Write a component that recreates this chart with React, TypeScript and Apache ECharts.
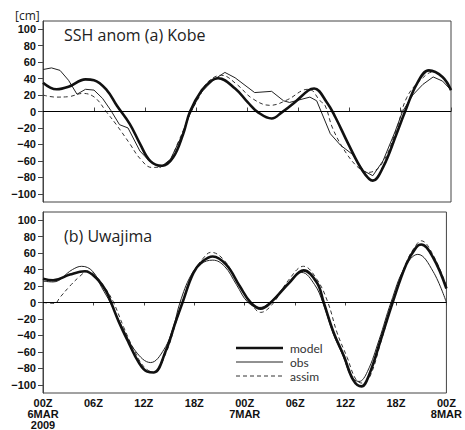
import React, { useEffect, useRef } from "react";
import * as echarts from "echarts";

// ---- Data (hours since 00Z 6 MAR 2009, SSH anomaly in cm) ----
const xTickLabels = ["00Z\n6MAR\n2009", "06Z", "12Z", "18Z", "00Z\n7MAR", "06Z", "12Z", "18Z", "00Z\n8MAR"];
const yTickValues = [-100, -80, -60, -40, -20, 0, 20, 40, 60, 80, 100];
const panelTitles = ["SSH anom (a) Kobe", "(b) Uwajima"];
const seriesNames = ["model", "obs", "assim"];

// (a) Kobe
const kobeModelH = [0, 1.6, 3, 5, 6, 7.5, 8.7, 10.2, 11.4, 12.6, 14, 15.3, 16.5, 17.3, 18.7, 19.9, 20.6, 22.6, 24.1, 25.3, 26.9, 28.1, 29.6, 31.2, 31.9, 33.4, 34.4, 35.9, 37.6, 38.8, 40, 41.6, 42.6, 44, 45.4, 47, 48];
const kobeModelV = [35, 27, 30, 39, 38, 26, 7, -15, -39, -60, -66, -56, -27, 0, 26, 38, 40.5, 28, 11, -1, -8.5, -1, 11, 25.5, 28, 11, -7, -39, -72, -84, -68, -27, 0, 34, 50, 42, 26];

const kobeObsH = [0, 1, 2, 3, 4, 5, 6, 7, 8, 9, 10, 11.4, 12.5, 13.8, 15, 16.3, 17.2, 18.5, 20, 21.4, 22.6, 24.9, 26.9, 28.3, 29, 31.4, 32.2, 33.8, 35, 36.4, 37.7, 38.8, 40, 41.4, 42.3, 43.5, 44.7, 45.9, 47, 48];
const kobeObsV = [51, 53, 50, 38, 21, 27, 26, 16, 1, -16, -20, -48, -60, -68, -58, -30, -5, 22, 38, 47.5, 41, 23, 24.5, 13, 11, 17.5, 13, -27, -41, -52, -72, -78, -60, -25, 0, 20, 33, 42, 37, 26];

const kobeAssimH = [0, 1.5, 3, 4.7, 6.1, 7.5, 8.7, 10.2, 11.4, 12.8, 14.5, 16, 17.3, 18.5, 19.4, 21, 22.8, 24.6, 26.7, 28.8, 30.5, 31.3, 32.6, 33.2, 34.1, 35.7, 37.3, 38.3, 39.9, 41.6, 42.8, 44.4, 45.9, 47, 48];
const kobeAssimV = [20, 17.5, 18, 22, 17, -1, -17, -39, -57, -68, -64, -35, -3, 20, 36, 44, 33, 16, 7.5, 14.5, 25.5, 27, 13, 7, -21, -51, -70, -74, -63, -21, 17, 38, 48, 42, 25];

// (b) Uwajima
const uwaModelH = [0, 1.2, 3.2, 5, 6.3, 7.5, 8.1, 9, 10.2, 11.4, 12.4, 13.2, 14.6, 15.8, 16.6, 17.9, 19, 20.2, 21.8, 23.4, 24.7, 25.9, 27.3, 29.3, 31, 32.6, 33.4, 34.6, 35.8, 36.9, 37.9, 38.8, 40.2, 41.6, 43.2, 44.4, 45, 46.4, 48];
const uwaModelV = [29, 27, 34, 38, 30, 14, 0, -23, -49, -73, -84, -85, -59, -23, 0, 36, 50, 56, 46, 20, 0, -7.5, 2, 24, 39, 24, 0, -37, -65, -94, -102, -88, -45, 0, 46, 67, 70.5, 55, 17];

const uwaObsH = [0, 1.2, 3.5, 4.6, 5.9, 7, 8, 9.4, 11, 12.8, 14.4, 15.5, 16.3, 17.6, 18.8, 20.2, 21.6, 23, 24.4, 25.8, 27.2, 29, 30.8, 32.3, 33.3, 34.5, 35.7, 36.7, 37.6, 38.6, 40, 41.4, 43, 44.6, 46.4, 48];
const uwaObsV = [26, 25, 40, 44, 38, 18, 0, -29, -59, -73, -57, -30, 0, 33, 47, 51.5, 44, 22, 0, -6, 2, 22, 36.5, 22, 0, -37, -65, -90, -96, -84, -45, 0, 42, 58.5, 38, 0];

const uwaAssimH = [0, 1.4, 2, 3.2, 4.4, 5.3, 6.3, 7.5, 8.4, 9.6, 10.8, 12, 13.2, 14.6, 15.8, 16.6, 17.8, 19, 20, 21.5, 23.2, 24.7, 25.9, 27.3, 29.2, 31, 32.6, 33.9, 35, 36.2, 37.2, 38, 38.9, 40.2, 41.6, 43.2, 44.4, 45, 46.4, 48];
const uwaAssimV = [0, -1, 6, 20, 32, 38, 32, 16, 0, -30, -57, -78, -85, -62, -25, 0, 35, 53, 61, 52, 24, 0, -12, -2, 27, 44, 28, 0, -37, -67, -93, -98, -90, -48, 0, 48, 70, 75, 58, 20];

const zip = (h: number[], v: number[]) => h.map((x, i) => [x, v[i]]);

const AXIS_COLOR = "#444";
const LABEL_FONT = "'Liberation Sans', Arial, sans-serif";
const TEXT_FONT = "'Open Sans', 'Noto Sans', sans-serif";
const LEGEND_FONT = "Lato, 'Liberation Sans', sans-serif";

export default function App() {
  const ref = useRef<HTMLDivElement>(null);

  useEffect(() => {
    document.body.style.margin = "0";
    if (!ref.current) return;
    const chart = echarts.init(ref.current, null, { renderer: "svg" });

    const grids = [
      { left: 43, top: 21, width: 408, height: 181, show: true, borderColor: AXIS_COLOR, borderWidth: 1, backgroundColor: "transparent" },
      { left: 43, top: 212, width: 408, height: 182, show: true, borderColor: AXIS_COLOR, borderWidth: 1, backgroundColor: "transparent" },
    ];

    const xAxes = [0, 1].map((g) => ({
      type: "value",
      gridIndex: g,
      min: 0,
      max: 48,
      interval: 6,
      axisLine: { show: true, lineStyle: { color: AXIS_COLOR, width: 1 } },
      axisTick: { show: true, inside: g === 0, length: g === 0 ? 4 : 3, lineStyle: { color: AXIS_COLOR } },
      splitLine: { show: false },
      axisLabel: {
        show: g === 1,
        margin: 4,
        fontFamily: LABEL_FONT,
        fontWeight: "bold",
        fontSize: 11,
        lineHeight: 11,
        color: "#111",
        verticalAlign: "top",
        formatter: (v: number) => xTickLabels[Math.round(v / 6)] ?? "",
      },
    }));

    const yAxes = [0, 1].map((g) => ({
      type: "value",
      gridIndex: g,
      min: -110,
      max: 110,
      axisLine: { show: true, lineStyle: { color: AXIS_COLOR, width: 1 } },
      axisTick: { show: true, inside: false, length: 5, customValues: yTickValues, lineStyle: { color: AXIS_COLOR } },
      splitLine: { show: false },
      axisLabel: {
        show: true,
        margin: 7,
        customValues: yTickValues,
        fontFamily: LABEL_FONT,
        fontWeight: "bold",
        fontSize: 11,
        color: "#111",
        formatter: (v: number) => String(v).replace("-", "\u2212"),
      },
    }));

    const zeroLine = {
      silent: true,
      symbol: "none",
      label: { show: false },
      lineStyle: { color: "#000", width: 1, type: "solid" },
      data: [{ yAxis: 0 }],
    };

    const panels = [
      { model: zip(kobeModelH, kobeModelV), obs: zip(kobeObsH, kobeObsV), assim: zip(kobeAssimH, kobeAssimV), obsSmooth: false },
      { model: zip(uwaModelH, uwaModelV), obs: zip(uwaObsH, uwaObsV), assim: zip(uwaAssimH, uwaAssimV), obsSmooth: 0.4 },
    ];

    const series: any[] = [];
    panels.forEach((p, g) => {
      series.push({
        name: seriesNames[2],
        type: "line",
        xAxisIndex: g,
        yAxisIndex: g,
        data: p.assim,
        smooth: 0.4,
        showSymbol: false,
        lineStyle: { color: "#333", width: 1, type: [4, 3] },
        markLine: zeroLine,
        z: 2,
      });
      series.push({
        name: seriesNames[1],
        type: "line",
        xAxisIndex: g,
        yAxisIndex: g,
        data: p.obs,
        smooth: p.obsSmooth,
        showSymbol: false,
        lineStyle: { color: "#222", width: 1 },
        z: 3,
      });
      series.push({
        name: seriesNames[0],
        type: "line",
        xAxisIndex: g,
        yAxisIndex: g,
        data: p.model,
        smooth: 0.4,
        showSymbol: false,
        lineStyle: { color: "#111", width: 2.6 },
        z: 4,
      });
    });

    const legendY = [348, 362, 376];
    const legendStyles = [
      { stroke: "#111", lineWidth: 2.6 },
      { stroke: "#222", lineWidth: 1 },
      { stroke: "#333", lineWidth: 1, lineDash: [4, 3] },
    ];

    const graphic: any[] = [
      { type: "text", x: 15, y: 9, style: { text: "[cm]", font: `12px ${TEXT_FONT}`, fill: "#222" } },
      { type: "text", x: 64, y: 35, style: { text: panelTitles[0], font: `16px ${TEXT_FONT}`, fill: "#222", verticalAlign: "middle" } },
      { type: "text", x: 64, y: 236, style: { text: panelTitles[1], font: `16px ${TEXT_FONT}`, fill: "#222", verticalAlign: "middle" } },
    ];
    seriesNames.forEach((n, i) => {
      graphic.push({
        type: "line",
        shape: { x1: 236, y1: legendY[i], x2: 283, y2: legendY[i] },
        style: legendStyles[i],
      });
      graphic.push({
        type: "text",
        x: 290,
        y: legendY[i],
        style: { text: n, fontFamily: LEGEND_FONT, fontSize: 12, lineHeight: 12, fill: "#333", verticalAlign: "middle" },
      });
    });

    chart.setOption({
      animation: false,
      backgroundColor: "#fff",
      grid: grids,
      xAxis: xAxes,
      yAxis: yAxes,
      series,
      graphic,
    });

    return () => chart.dispose();
  }, []);

  return <div ref={ref} style={{ width: 465, height: 430 }} />;
}
